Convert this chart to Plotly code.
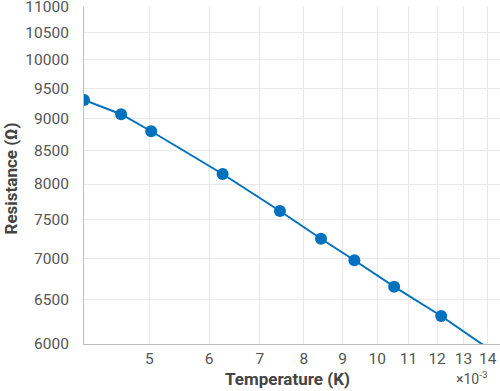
import numpy as np
import plotly.graph_objects as go

temperature = [4.10e-3, 4.59e-3, 5.03e-3, 6.25e-3, 7.44e-3, 8.43e-3, 9.33e-3, 10.53e-3, 12.15e-3, 15.0e-3]
resistance = [9307, 9071, 8797, 8146, 7622, 7251, 6975, 6652, 6310, 5790]

x_tick_vals = [5e-3, 6e-3, 7e-3, 8e-3, 9e-3, 10e-3, 11e-3, 12e-3, 13e-3, 14e-3]
x_tick_text = ["5", "6", "7", "8", "9", "10", "11", "12", "13", "14"]
y_tick_vals = [6000, 6500, 7000, 7500, 8000, 8500, 9000, 9500, 10000, 10500, 11000]

FONT = "Roboto, sans-serif"
BLUE = "#0072BD"

fig = go.Figure()
fig.add_trace(go.Scatter(
    x=temperature, y=resistance, mode="lines+markers",
    line=dict(color=BLUE, width=2),
    marker=dict(color=BLUE, size=12),
    showlegend=False,
))

fig.update_layout(
    width=500, height=391,
    margin=dict(l=84, r=0, t=7, b=47),
    paper_bgcolor="white", plot_bgcolor="white",
    font=dict(family=FONT, size=15.5, color="#555555"),
    xaxis=dict(
        type="log", automargin=False,
        range=[np.log10(0.00410), np.log10(0.01453)],
        tickvals=x_tick_vals, ticktext=x_tick_text,
        showgrid=True, gridcolor="#e8e8e8", gridwidth=1,
        showline=True, linecolor="#bdbdbd", linewidth=1,
        ticks="", zeroline=False, ticklabeloverflow="allow",
    ),
    yaxis=dict(
        type="log", automargin=False,
        range=[np.log10(6000), np.log10(11000)],
        tickvals=y_tick_vals, ticktext=[str(v) for v in y_tick_vals],
        showgrid=True, gridcolor="#e8e8e8", gridwidth=1,
        showline=True, linecolor="#bdbdbd", linewidth=1,
        ticks="", zeroline=False, ticklabelstandoff=11, ticklabeloverflow="allow",
    ),
)

fig.add_annotation(
    text="<b>Temperature (K)</b>", xref="paper", yref="paper",
    x=0, y=0, xanchor="center", yanchor="middle", xshift=287.5 - 84, yshift=-35,
    showarrow=False, font=dict(family=FONT, size=17, color="#444444"),
)
fig.add_annotation(
    text="<b>Resistance (Ω)</b>", xref="paper", yref="paper",
    x=0, y=0, xanchor="center", yanchor="middle", xshift=10.5 - 84, yshift=344 - 179,
    textangle=-90,
    showarrow=False, font=dict(family=FONT, size=17, color="#444444"),
)
fig.add_annotation(
    text="×10<sup>-3</sup>", xref="paper", yref="paper",
    x=0, y=0, xanchor="center", yanchor="middle", xshift=471 - 84, yshift=-34,
    showarrow=False, font=dict(family=FONT, size=14, color="#555555"),
)

fig.write_html("out.html", post_script="document.body.style.margin='0';",
               config={"displayModeBar": False})
